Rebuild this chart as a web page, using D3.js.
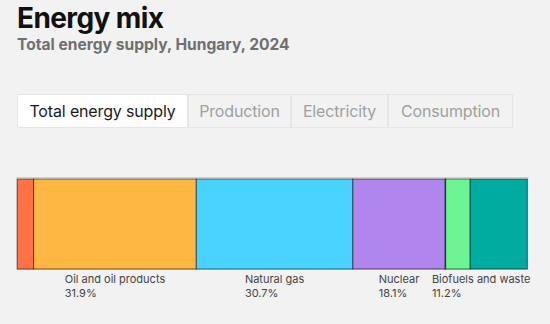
<!DOCTYPE html>
<html><head><meta charset="utf-8">
<script src="https://cdn.jsdelivr.net/npm/d3@7"></script>
<style>
body{margin:0;background:#f2f2f2;}
svg{display:block;}
</style></head>
<body>
<svg id="c" width="550" height="324"></svg>
<script>
const categories = ["Coal","Oil and oil products","Natural gas","Nuclear","Hydro","Wind, solar, etc.","Biofuels and waste"];
const shares = [3.2, 31.9, 30.7, 18.1, 0.1, 4.8, 11.2];
const colors = ["#ff7147","#ffb743","#49d3ff","#b085ee","#1f3a93","#6df595","#00ab9f"];
const tabs = ["Total energy supply","Production","Electricity","Consumption"];
const title = "Energy mix";
const subtitle = "Total energy supply, Hungary, 2024";

const svg = d3.select("#c");
const font = "Inter, 'Noto Sans', sans-serif";

svg.append("text").attr("x",17).attr("y",28).attr("font-family",font).attr("font-weight",700)
  .attr("font-size",28).attr("fill","#111").attr("letter-spacing",-0.6).text(title);
svg.append("text").attr("x",17).attr("y",49.5).attr("font-family",font).attr("font-weight",700)
  .attr("font-size",15.6).attr("fill","#707070").text(subtitle);

// tabs
const tabEdges = [17,188,291,388,513];
const tg = svg.append("g");
tabs.forEach((t,i)=>{
  const x0 = tabEdges[i], x1 = tabEdges[i+1];
  tg.append("rect").attr("x",x0+0.5).attr("y",94.5).attr("width",x1-x0-1).attr("height",33)
    .attr("fill", i===0 ? "#ffffff" : "#f2f2f2").attr("stroke","#e6e6e6");
  tg.append("text").attr("x",(x0+x1)/2).attr("y",117).attr("text-anchor","middle")
    .attr("font-family",font).attr("font-size",16).attr("letter-spacing",-0.15)
    .attr("fill", i===0 ? "#1a1a1a" : "#a0a0a0").text(t);
});

// bar
const x = d3.scaleLinear().domain([0, d3.sum(shares)]).range([17.3, 527.3]);
const y0 = 179, h = 90;
let cum = 0;
const segs = shares.map((v,i)=>{ const s = {cat:categories[i], v, start:cum, end:cum+v, color:colors[i]}; cum += v; return s; });

svg.append("rect").attr("x",x(0)-0.5).attr("y",y0-1.5).attr("width",x(cum)-x(0)+1).attr("height",h+2)
  .attr("fill","none").attr("stroke","#cfcfcf").attr("stroke-width",1);

svg.append("g").selectAll("rect").data(segs).join("rect")
  .attr("x",d=>x(d.start)).attr("y",y0).attr("width",d=>x(d.end)-x(d.start)).attr("height",h)
  .attr("fill",d=>d.color).attr("stroke","rgba(0,0,0,0.55)").attr("stroke-width",1);

const lg = svg.append("g");
segs.filter(d=>d.v>=10).forEach(d=>{
  const cx = (x(d.start)+x(d.end))/2;
  const g = lg.append("g");
  const t1 = g.append("text").attr("y",283).attr("font-family",font).attr("font-size",11).attr("fill","#444").text(d.cat);
  const t2 = g.append("text").attr("y",297).attr("font-family",font).attr("font-size",11).attr("fill","#444").text(d3.format(".1f")(d.v)+"%");
  const w = Math.max(t1.node().getComputedTextLength(), t2.node().getComputedTextLength());
  let lx = cx - w/2;
  lx = Math.min(lx, x(cum) + 3 - w);
  t1.attr("x",lx); t2.attr("x",lx);
});
</script>
</body></html>
